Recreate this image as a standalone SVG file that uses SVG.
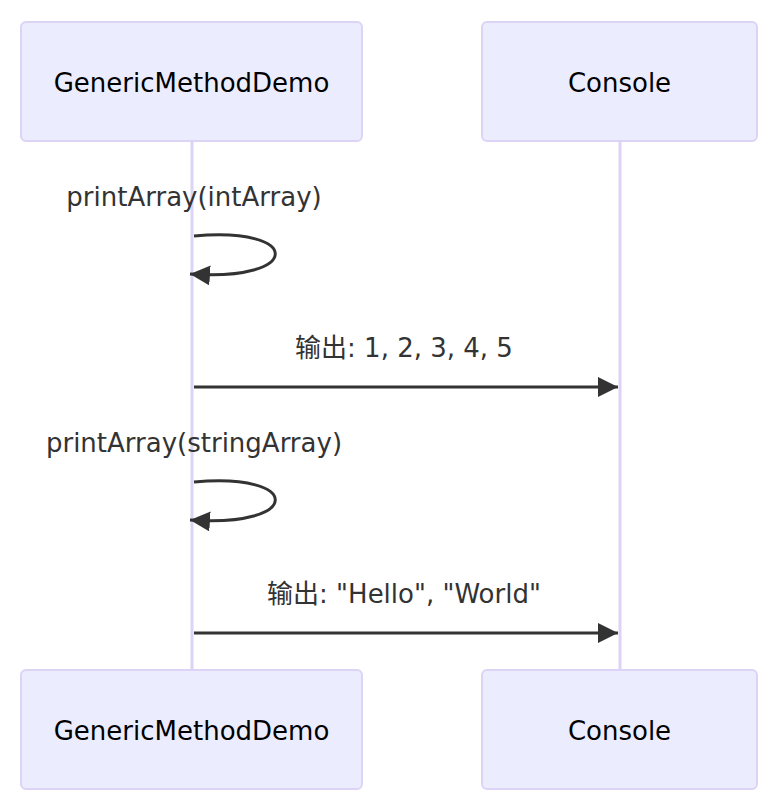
<svg xmlns="http://www.w3.org/2000/svg" width="774" height="806" viewBox="0 0 774 806">
<style>
.actor{fill:#ECECFF;stroke:#DCD3F6;stroke-width:2}
.atext{font-family:"DejaVu Sans","Noto Sans CJK SC",sans-serif;font-size:26px;fill:#000;text-anchor:middle}
.life{stroke:#DCD3F6;stroke-width:3}
.msg{stroke:#333;stroke-width:3;fill:none}
.mtext{font-family:"DejaVu Sans","Noto Sans CJK SC",sans-serif;font-size:26px;fill:#333;text-anchor:middle}
</style>
<defs>
<marker id="ah" markerUnits="userSpaceOnUse" markerWidth="22" markerHeight="20" refX="20" refY="10" orient="auto">
<path d="M0,0 L20,10 L0,20 Z" fill="#333"/>
</marker>
</defs>
<rect width="774" height="806" fill="#fff"/>
<g id="lifelines">
<line class="life" x1="192" y1="141" x2="192" y2="670"/>
<line class="life" x1="620" y1="141" x2="620" y2="670"/>
</g>
<g id="actor-demo-top"><rect class="actor" x="21" y="22" width="341" height="119" rx="5"/><text class="atext" x="191.5" y="92">GenericMethodDemo</text></g>
<g id="actor-console-top"><rect class="actor" x="482" y="22" width="275" height="119" rx="5"/><text class="atext" x="619.5" y="92">Console</text></g>
<g id="actor-demo-bottom"><rect class="actor" x="21" y="670" width="341" height="119" rx="5"/><text class="atext" x="191.5" y="740">GenericMethodDemo</text></g>
<g id="actor-console-bottom"><rect class="actor" x="482" y="670" width="275" height="119" rx="5"/><text class="atext" x="619.5" y="740">Console</text></g>
<g id="connectors">
<path class="msg" d="M194,236 C303,226 303,282 190,274" marker-end="url(#ah)"/>
<line class="msg" x1="194" y1="387" x2="618" y2="387" marker-end="url(#ah)"/>
<path class="msg" d="M194,482 C303,472 303,528 190,520" marker-end="url(#ah)"/>
<line class="msg" x1="194" y1="633" x2="618" y2="633" marker-end="url(#ah)"/>
</g>
<g id="labels">
<text class="mtext" x="194" y="206">printArray(intArray)</text>
<text class="mtext" x="404" y="357">输出: 1, 2, 3, 4, 5</text>
<text class="mtext" x="194" y="452">printArray(stringArray)</text>
<text class="mtext" x="404" y="603">输出: "Hello", "World"</text>
</g>
</svg>
